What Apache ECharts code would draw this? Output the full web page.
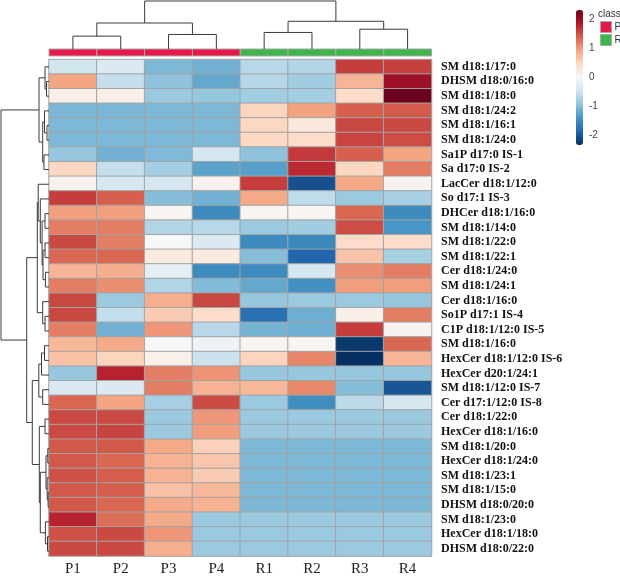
<!DOCTYPE html>
<html><head><meta charset="utf-8">
<script src="https://cdn.jsdelivr.net/npm/echarts@6/dist/echarts.min.js"></script>
<style>html,body{margin:0;padding:0;background:#fff}#c{width:620px;height:577px}</style>
</head><body><div id="c"></div>
<script>
// ---- data ----
const samples = ['P1','P2','P3','P4','R1','R2','R3','R4'];
const sampleClass = ['P','P','P','P','R','R','R','R'];
const lipids = [
 'SM d18:1/17:0','DHSM d18:0/16:0','SM d18:1/18:0','SM d18:1/24:2','SM d18:1/16:1','SM d18:1/24:0',
 'Sa1P d17:0 IS-1','Sa d17:0 IS-2','LacCer d18:1/12:0','So d17:1 IS-3','DHCer d18:1/16:0','SM d18:1/14:0',
 'SM d18:1/22:0','SM d18:1/22:1','Cer d18:1/24:0','SM d18:1/24:1','Cer d18:1/16:0','So1P d17:1 IS-4',
 'C1P d18:1/12:0 IS-5','SM d18:1/16:0','HexCer d18:1/12:0 IS-6','HexCer d20:1/24:1','SM d18:1/12:0 IS-7',
 'Cer d17:1/12:0 IS-8','Cer d18:1/22:0','HexCer d18:1/16:0','SM d18:1/20:0','HexCer d18:1/24:0',
 'SM d18:1/23:1','SM d18:1/15:0','DHSM d18:0/20:0','SM d18:1/23:0','HexCer d18:1/18:0','DHSM d18:0/22:0'];
// z-scores per sample column (row order as lipids)
const P1 = [-0.45,0.93,0.15,-1.07,-1.05,-1.05,-0.9,0.5,0.1,1.62,0.97,1.2,1.55,1.35,0.8,1.2,1.56,1.56,1.2,0.78,0.68,-0.9,-0.35,1.35,1.55,1.55,1.45,1.45,1.5,1.45,1.45,1.8,1.5,1.55];
const P2 = [-0.35,-0.55,0.15,-1.07,-1.05,-1.05,-1.12,-0.55,-0.42,1.4,0.97,1.2,1.2,1.35,0.85,1.08,-0.87,-0.57,-1.12,0.88,0.52,1.8,-0.35,0.92,1.55,1.58,1.45,1.35,1.42,1.42,1.35,1.3,1.55,1.55];
const P3 = [-1.05,-0.95,-0.87,-1.05,-1.05,-1.05,-1.03,-0.8,-0.42,-1.0,0.05,-0.7,0.0,0.22,-0.22,-0.7,0.85,0.6,1.03,0.0,0.12,1.2,1.2,-0.78,-0.87,-0.87,0.9,0.82,0.82,0.7,0.88,0.88,1.03,0.85];
const P4 = [-1.12,-1.2,-0.91,-1.05,-1.05,-1.05,-0.42,-1.25,0.1,-1.12,-1.47,-0.65,-0.35,0.22,-1.47,-1.02,1.56,0.45,-0.65,-0.12,-0.5,1.05,0.82,1.53,1.03,0.98,0.55,0.65,0.6,0.78,0.82,-0.87,-0.87,-0.87];
const R1 = [-0.65,-0.67,-0.82,0.52,0.5,0.48,-0.95,-1.28,1.62,0.9,0.05,-0.87,-1.47,-1.0,-1.47,-1.2,-0.9,-1.75,-1.1,0.05,0.52,-0.9,0.77,-0.87,-0.87,-0.87,-1.05,-1.05,-1.05,-1.05,-1.05,-0.87,-0.87,-0.87];
const R2 = [-0.7,-0.82,-0.8,0.95,0.25,0.45,1.65,1.75,-2.05,-0.6,0.05,-0.82,-1.5,-1.86,-0.42,-1.43,-0.87,-1.15,-1.15,0.05,1.15,-0.9,1.13,-1.45,-0.87,-0.87,-1.05,-1.05,-1.05,-1.05,-1.05,-0.87,-0.87,-0.87];
const R3 = [1.62,0.8,0.45,1.4,1.56,1.58,1.4,0.5,0.9,-0.87,1.35,1.52,0.45,0.67,1.08,0.98,-0.87,0.15,1.62,-2.25,-2.33,-0.9,-1.0,-0.62,-0.87,-0.87,-1.05,-1.05,-1.05,-1.05,-1.05,-0.87,-0.87,-0.87];
const R4 = [1.6,2.0,2.3,1.43,1.55,1.52,0.93,1.2,0.08,-0.78,-1.47,-1.37,0.45,-0.77,1.2,0.98,-0.9,1.2,0.08,1.35,0.8,-0.9,-2.0,-0.42,-0.87,-0.87,-1.05,-1.05,-1.05,-1.05,-1.05,-0.87,-0.87,-0.87];
const colorTicks = [2,1,0,-1,-2];
// hclust-style merges: [a, b, height]; negative = leaf (1-based), positive = earlier merge
const colMerge = [[-1,-2,2.95],[-3,-4,3.33],[-5,-6,3.79],[-7,-8,4.54],[1,2,5.96],[3,4,6.35],[5,6,11]];
const rowMerge = [
 [-2,-3,0.83],[-1,1,1.33],[-5,-6,0.67],[-4,3,1.5],[-7,-8,1.67],[4,5,2.1],[2,6,3.33],
 [-11,-12,1.33],[-13,-14,1.33],[-15,-16,1.2],[9,10,2.0],[8,11,2.3],[-10,12,2.9],[-9,13,3.6],
 [-18,-19,1.33],[-17,15,2.1],[14,16,3.9],
 [-20,-21,1.5],[18,-22,2.5],[-23,-24,2.1],[19,20,3.4],
 [-25,-26,1.33],[-27,-28,0.4],[-30,-31,0.3],[-29,24,0.6],[23,25,1.0],[-33,-34,0.5],[-32,27,1.2],[26,28,2.9],[22,29,3.23],
 [21,30,5.57],[17,31,7.43],[7,32,16]];

// ---- build ----
const cols = [P1,P2,P3,P4,R1,R2,R3,R4];
const heatData = [];
cols.forEach((arr, ci) => arr.forEach((v, ri) => heatData.push([ci, ri, v])));

function dendro(merge) {
  const pos = [], hgt = [], segs = [];
  const get = k => k < 0 ? [(-k) - 0.5, 0] : [pos[k-1], hgt[k-1]];
  merge.forEach(([a, b, h], i) => {
    const [pa, ha] = get(a), [pb, hb] = get(b);
    pos[i] = (pa + pb) / 2; hgt[i] = h;
    segs.push([pa, ha, pb, hb, h]);
  });
  return segs;
}
const colSegs = dendro(colMerge);
const rowSegs = dendro(rowMerge);

function dendroRender(horizontal) {
  return function (params, api) {
    const pa = api.value(0), ha = api.value(1), pb = api.value(2), hb = api.value(3), h = api.value(4);
    const pts = horizontal
      ? [[ha, pa], [h, pa], [h, pb], [hb, pb]]
      : [[pa, ha], [pa, h], [pb, h], [pb, hb]];
    return { type: 'polyline', shape: { points: pts.map(p => api.coord(p)) },
             style: { stroke: '#3a3a3a', lineWidth: 1, fill: null } };
  };
}
function classRender(params, api) {
  const c = api.coord([api.value(0), api.value(1)]);
  const s = api.size([1, 1]);
  return { type: 'rect', shape: { x: c[0] - s[0] / 2, y: c[1] - s[1] / 2, width: s[0], height: s[1] },
           style: { fill: api.visual('color'), stroke: '#a8a8a8', lineWidth: 1 } };
}
const classColors = { P: '#E5194C', R: '#3DB54A' };
const classData = k => sampleClass.map((c, i) => c === k ? [i, 0] : null).filter(Boolean);

const rdbu = ['#053061','#2166ac','#4393c3','#92c5de','#d1e5f0','#f7f7f7','#fddbc7','#f4a582','#d6604d','#b2182b','#67001f'];
const L = 49, W = 382.5, HT = 59.5, HH = 499;
const hidden = { show: false };

const chart = echarts.init(document.getElementById('c'), null, { renderer: 'canvas' });
chart.setOption({
  animation: false,
  backgroundColor: '#fff',
  title: { text: 'class', left: 598, top: 9, textStyle: { fontSize: 10, fontWeight: 'normal', color: '#333', fontFamily: 'Liberation Sans' }, padding: 0 },
  legend: { data: ['P', 'R'], orient: 'vertical', left: 600, top: 21, padding: 0, itemWidth: 11, itemHeight: 11, itemGap: 1,
            icon: 'rect', selectedMode: false, textStyle: { fontSize: 10, color: '#333', fontFamily: 'Liberation Sans', padding: [0,0,0,-2] },
            itemStyle: { borderColor: '#aaa', borderWidth: 1 } },
  grid: [
    { left: L, top: HT, width: W, height: HH },
    { left: L, top: 49, width: W, height: 7 },
    { left: L, top: 1, width: W, height: 48 },
    { left: 1, top: HT, width: 48, height: HH },
    { left: 576, top: 10, width: 7, height: 135 }
  ],
  xAxis: [
    { gridIndex: 0, type: 'category', data: samples, axisLine: hidden, axisTick: hidden, splitLine: hidden,
      axisLabel: { margin: 6, fontSize: 15, fontFamily: 'Liberation Serif', color: '#222', interval: 0 } },
    { gridIndex: 1, type: 'category', data: samples, show: false },
    { gridIndex: 2, type: 'value', min: 0, max: 8, show: false },
    { gridIndex: 3, type: 'value', min: 0, max: 16, inverse: true, show: false },
    { gridIndex: 4, type: 'value', min: 0, max: 1, show: false }
  ],
  yAxis: [
    { gridIndex: 0, type: 'category', data: lipids, inverse: true, position: 'right', axisLine: hidden, axisTick: hidden, splitLine: hidden,
      axisLabel: { margin: 9.5, fontSize: 12, fontWeight: 'bold', fontFamily: 'Liberation Serif', color: '#111', interval: 0 } },
    { gridIndex: 1, type: 'category', data: ['class'], show: false },
    { gridIndex: 2, type: 'value', min: 0, max: 11, show: false },
    { gridIndex: 3, type: 'value', min: 0, max: 34, inverse: true, show: false },
    { gridIndex: 4, type: 'value', min: -2.33, max: 2.33, position: 'right', axisLine: hidden, axisTick: hidden, splitLine: hidden,
      axisLabel: { customValues: colorTicks, margin: 6, fontSize: 10, color: '#444', fontFamily: 'Liberation Sans' } }
  ],
  visualMap: {
    type: 'continuous', seriesIndex: 0, dimension: 2, min: -2.33, max: 2.33, calculable: false,
    left: 576, top: 10, itemWidth: 7, itemHeight: 135, padding: 0, text: null, showLabel: false,
    inRange: { color: rdbu }
  },
  series: [
    { type: 'heatmap', xAxisIndex: 0, yAxisIndex: 0, data: heatData, progressive: 0,
      itemStyle: { borderColor: '#a3a3a3', borderWidth: 1 }, emphasis: { disabled: true } },
    { name: 'P', type: 'custom', xAxisIndex: 1, yAxisIndex: 1, data: classData('P'), renderItem: classRender,
      itemStyle: { color: classColors.P } },
    { name: 'R', type: 'custom', xAxisIndex: 1, yAxisIndex: 1, data: classData('R'), renderItem: classRender,
      itemStyle: { color: classColors.R } },
    { type: 'custom', xAxisIndex: 2, yAxisIndex: 2, data: colSegs, renderItem: dendroRender(false), clip: false,
      encode: { x: [0, 2], y: [1, 3, 4] } },
    { type: 'custom', xAxisIndex: 3, yAxisIndex: 3, data: rowSegs, renderItem: dendroRender(true), clip: false,
      encode: { x: [1, 3, 4], y: [0, 2] } }
  ]
});
</script></body></html>
